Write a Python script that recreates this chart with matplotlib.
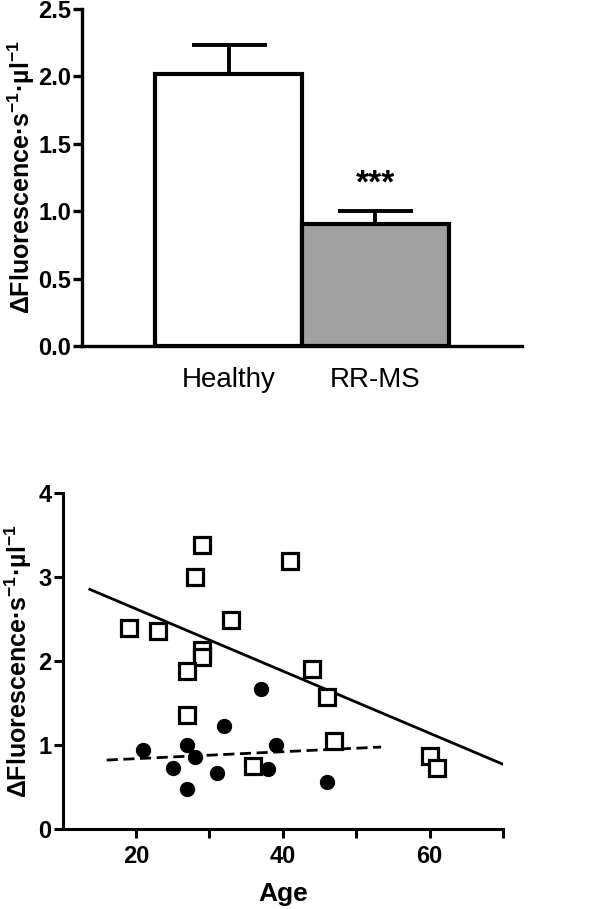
"""Enzyme activity: bar chart by group and scatter against age."""

import numpy as np
import matplotlib
matplotlib.use("Agg")
import matplotlib.pyplot as plt

# --- data ---
groups = ["Healthy", "RR-MS"]
group_mean = [2.02, 0.905]
group_sem = [0.21, 0.10]
bar_colors = ["white", "#a0a0a0"]

healthy_age = [19, 23, 29, 28, 41, 33, 29, 29, 27, 27, 44, 46, 47, 36, 60, 61]
healthy_val = [2.39, 2.36, 3.38, 3.00, 3.19, 2.49, 2.13, 2.05, 1.88, 1.36,
               1.90, 1.57, 1.05, 0.75, 0.87, 0.73]

ms_age = [21, 25, 27, 28, 27, 31, 32, 37, 39, 38, 46]
ms_val = [0.94, 0.72, 1.00, 0.86, 0.48, 0.67, 1.23, 1.67, 1.00, 0.71, 0.56]

# regression lines as drawn
healthy_fit_x = [13.7, 70.0]
healthy_fit_y = [2.85, 0.77]
ms_fit_x = [16.0, 53.4]
ms_fit_y = [0.82, 0.975]

ylab = r"$\Delta$Fluorescence·s$^{\mathbf{-1}}$·µl$^{\mathbf{-1}}$"

plt.rcParams['font.family'] = ['Liberation Sans', 'DejaVu Sans']
plt.rcParams['mathtext.fontset'] = 'custom'
plt.rcParams['mathtext.rm'] = 'Liberation Sans:bold'
plt.rcParams['mathtext.bf'] = 'Liberation Sans:bold'
plt.rcParams['mathtext.it'] = 'Liberation Sans:bold'

fig = plt.figure(figsize=(6.0, 9.09), dpi=100)

# ---------------- top: bars ----------------
ax1 = fig.add_axes([0.1367, 0.6194, 0.7333, 0.3707])
x = np.arange(len(groups))
ax1.bar(x, group_mean, width=1.0, color=bar_colors, edgecolor="black",
        linewidth=3.0, zorder=3)
ax1.errorbar(x, group_mean, yerr=[[0, 0], group_sem], fmt="none",
             ecolor="black", elinewidth=2.8, capsize=27, capthick=2.8,
             zorder=2)
ax1.text(1, group_mean[1] + group_sem[1] + 0.08, "***", ha="center",
         va="bottom", fontsize=24, fontweight="bold")

ax1.set_xlim(-1, 2)
ax1.set_ylim(0, 2.5)
ax1.set_yticks(np.arange(0, 2.51, 0.5))
ax1.set_yticklabels(["%.1f" % v for v in np.arange(0, 2.51, 0.5)])
ax1.set_xticks(x)
ax1.set_xticklabels(groups, fontsize=20)
ax1.tick_params(axis="x", length=0, pad=15)
ax1.tick_params(axis="y", length=6.5, width=2.4, pad=1.5, labelsize=17)
for lab in ax1.get_yticklabels():
    lab.set_fontweight("bold")
for side in ["top", "right"]:
    ax1.spines[side].set_visible(False)
for side in ["left", "bottom"]:
    ax1.spines[side].set_linewidth(2.4)
ax1.set_ylabel(ylab, fontsize=18, fontweight="bold", labelpad=1)

# ---------------- bottom: scatter vs age ----------------
ax2 = fig.add_axes([0.1045, 0.088, 0.7338, 0.370])
ax2.plot(healthy_age, healthy_val, linestyle="none", marker="s",
         markersize=11, markerfacecolor="white", markeredgecolor="black",
         markeredgewidth=2.3, zorder=3)
ax2.plot(ms_age, ms_val, linestyle="none", marker="o", markersize=10,
         color="black", zorder=3)
ax2.plot(healthy_fit_x, healthy_fit_y, color="black", linewidth=2.0, zorder=2)
ax2.plot(ms_fit_x, ms_fit_y, color="black", linewidth=2.0,
         dashes=(4, 2), zorder=2)

ax2.set_xlim(10, 70)
ax2.set_ylim(0, 4)
ax2.set_xticks([20, 30, 40, 50, 60, 70])
ax2.set_xticklabels(["20", "", "40", "", "60", ""])
ax2.set_yticks([0, 1, 2, 3, 4])
ax2.tick_params(axis="both", length=6.5, width=2.2, labelsize=17)
ax2.tick_params(axis="x", pad=5)
ax2.tick_params(axis="y", pad=1.5)
for lab in ax2.get_xticklabels() + ax2.get_yticklabels():
    lab.set_fontweight("bold")
for side in ["top", "right"]:
    ax2.spines[side].set_visible(False)
for side in ["left", "bottom"]:
    ax2.spines[side].set_linewidth(2.2)
ax2.set_xlabel("Age", fontsize=19, fontweight="bold", labelpad=10)
ax2.set_ylabel(ylab, fontsize=18, fontweight="bold", labelpad=3)

fig.savefig("out.png", dpi=100)
